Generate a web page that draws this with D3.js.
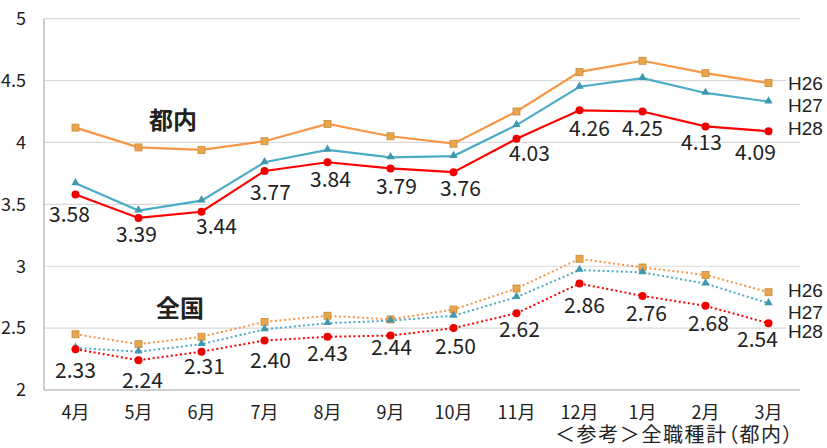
<!DOCTYPE html>
<html>
<head>
<meta charset="utf-8">
<script src="https://cdn.jsdelivr.net/npm/d3@7"></script>
<style>
  body { margin: 0; background: #fff; }
  text { font-family: "Noto Sans CJK JP", "Liberation Sans", sans-serif; fill: #222; }
</style>
</head>
<body>
<div id="chart"></div>
<script>
// months (x categories)
var months = ["4月", "5月", "6月", "7月", "8月", "9月", "10月", "11月", "12月", "1月", "2月", "3月"];
var yTicks = [2, 2.5, 3, 3.5, 4, 4.5, 5];
var seriesNames = ["H26", "H27", "H28"];

// 都内 (Tokyo)
var tokyoH26 = [4.12, 3.96, 3.94, 4.01, 4.15, 4.05, 3.99, 4.25, 4.57, 4.66, 4.56, 4.48];
var tokyoH27 = [3.67, 3.45, 3.53, 3.84, 3.94, 3.88, 3.89, 4.14, 4.45, 4.52, 4.40, 4.33];
var tokyoH28 = [3.58, 3.39, 3.44, 3.77, 3.84, 3.79, 3.76, 4.03, 4.26, 4.25, 4.13, 4.09];

// 全国 (nationwide)
var zenkokuH26 = [2.45, 2.37, 2.43, 2.55, 2.60, 2.57, 2.65, 2.82, 3.06, 2.99, 2.93, 2.79];
var zenkokuH27 = [2.34, 2.31, 2.37, 2.49, 2.54, 2.56, 2.60, 2.75, 2.97, 2.95, 2.86, 2.70];
var zenkokuH28 = [2.33, 2.24, 2.31, 2.40, 2.43, 2.44, 2.50, 2.62, 2.86, 2.76, 2.68, 2.54];

// manual data label nudges (dx, dy from the H28 point), as placed in the original
var tokyoLabelShift = [[-6,20],[-2,16],[15,15],[6,22],[3,17],[6,18],[7,16],[13,15],[10,18],[0,17],[-4,16],[-13,21]];
var zenkokuLabelShift = [[0,21],[4,20],[3,15],[6,20],[0,17],[1,12],[2,18],[3,16],[5,22],[4,18],[3,18],[-11,16]];

var W = 827, H = 448;
var svg = d3.select("#chart").append("svg").attr("width", W).attr("height", H);

var x = d3.scaleBand().domain(months).range([44, 800]);
var y = d3.scaleLinear().domain([2, 5]).range([390, 18.7]);
var cx = function (i) { return x(months[i]) + x.bandwidth() / 2; };

// gridlines
svg.append("g").selectAll("line").data(yTicks.filter(function (t) { return t > 2; }))
  .enter().append("line")
  .attr("x1", 44).attr("x2", 800)
  .attr("y1", function (d) { return y(d); }).attr("y2", function (d) { return y(d); })
  .attr("stroke", "#d9d9d9").attr("stroke-width", 1.2);

// axes lines
svg.append("line").attr("x1", 44).attr("x2", 44).attr("y1", y(5)).attr("y2", y(2))
  .attr("stroke", "#bfbfbf").attr("stroke-width", 1.5);
svg.append("line").attr("x1", 44).attr("x2", 800).attr("y1", y(2)).attr("y2", y(2))
  .attr("stroke", "#bfbfbf").attr("stroke-width", 1.5);

// y tick labels
svg.append("g").selectAll("text").data(yTicks).enter().append("text")
  .attr("x", 26).attr("y", function (d) { return y(d); })
  .attr("dy", "0.35em").attr("text-anchor", "end")
  .style("font-size", "18px")
  .text(function (d) { return d; });

// x tick labels
svg.append("g").selectAll("text").data(months).enter().append("text")
  .attr("x", function (d, i) { return cx(i); }).attr("y", 413)
  .attr("dy", "0.35em").attr("text-anchor", "middle")
  .style("font-size", "18px")
  .text(function (d) { return d; });

var colors = { H26: "#f79646", H27: "#4bacc6", H28: "#ff0000" };

function drawGroup(vals, dashed) {
  var line = d3.line().x(function (d, i) { return cx(i); }).y(function (d) { return y(d); });
  vals.forEach(function (v, k) {
    var name = seriesNames[k];
    svg.append("path").datum(v)
      .attr("d", line).attr("fill", "none")
      .attr("stroke", colors[name])
      .attr("stroke-width", dashed ? 2 : 2.2)
      .attr("stroke-dasharray", dashed ? "2,2.6" : null);
  });
  vals.forEach(function (v, k) {
    var name = seriesNames[k];
    var g = svg.append("g");
    if (name === "H26") {
      g.selectAll("rect").data(v).enter().append("rect")
        .attr("x", function (d, i) { return cx(i) - 3.5; })
        .attr("y", function (d) { return y(d) - 3.5; })
        .attr("width", 7).attr("height", 7)
        .attr("fill", "#e8a64c").attr("stroke", "#c98a3a").attr("stroke-width", 0.8);
    } else if (name === "H27") {
      g.selectAll("path").data(v).enter().append("path")
        .attr("d", d3.symbol().type(d3.symbolTriangle).size(30))
        .attr("transform", function (d, i) { return "translate(" + cx(i) + "," + (y(d) - 0.5) + ")"; })
        .attr("fill", "#3f97b0");
    } else {
      g.selectAll("circle").data(v).enter().append("circle")
        .attr("cx", function (d, i) { return cx(i); })
        .attr("cy", function (d) { return y(d); })
        .attr("r", 4).attr("fill", "#ee0000");
    }
  });
}

drawGroup([tokyoH26, tokyoH27, tokyoH28], false);
drawGroup([zenkokuH26, zenkokuH27, zenkokuH28], true);

// data labels for H28
function dataLabels(v, shift) {
  svg.append("g").selectAll("text").data(v).enter().append("text")
    .attr("x", function (d, i) { return cx(i) + shift[i][0]; })
    .attr("y", function (d, i) { return y(d) + shift[i][1]; })
    .attr("dy", "0.36em").attr("text-anchor", "middle")
    .style("font-size", "21px")
    .text(function (d) { return d.toFixed(2); });
}
dataLabels(tokyoH28, tokyoLabelShift);
dataLabels(zenkokuH28, zenkokuLabelShift);

// series names at the right
function seriesLabels(ys) {
  seriesNames.forEach(function (n, k) {
    svg.append("rect").attr("x", 786).attr("y", ys[k] - 8).attr("width", 41).attr("height", 16).attr("fill", "#fff");
  });
  seriesNames.forEach(function (n, k) {
    svg.append("text").attr("x", 788).attr("y", ys[k]).attr("dy", "0.36em")
      .style("font-family", "'Liberation Sans', sans-serif")
      .style("font-size", "19px").text(n);
  });
}
seriesLabels([83, 105, 128.3]);
seriesLabels([290.5, 312, 331]);

// group titles
svg.append("text").attr("x", 173).attr("y", 120.5).attr("dy", "0.36em").attr("text-anchor", "middle")
  .style("font-size", "24px").style("font-weight", "bold").text("都内");
svg.append("text").attr("x", 180).attr("y", 308).attr("dy", "0.36em").attr("text-anchor", "middle")
  .style("font-size", "24px").style("font-weight", "bold").text("全国");

// footnote
svg.append("text").attr("x", 555).attr("y", 435).attr("dy", "0.36em")
  .style("font-size", "20px").style("font-feature-settings", "'palt'")
  .style("letter-spacing", "1.6px")
  .text("＜参考＞全職種計（都内）");
</script>
</body>
</html>
